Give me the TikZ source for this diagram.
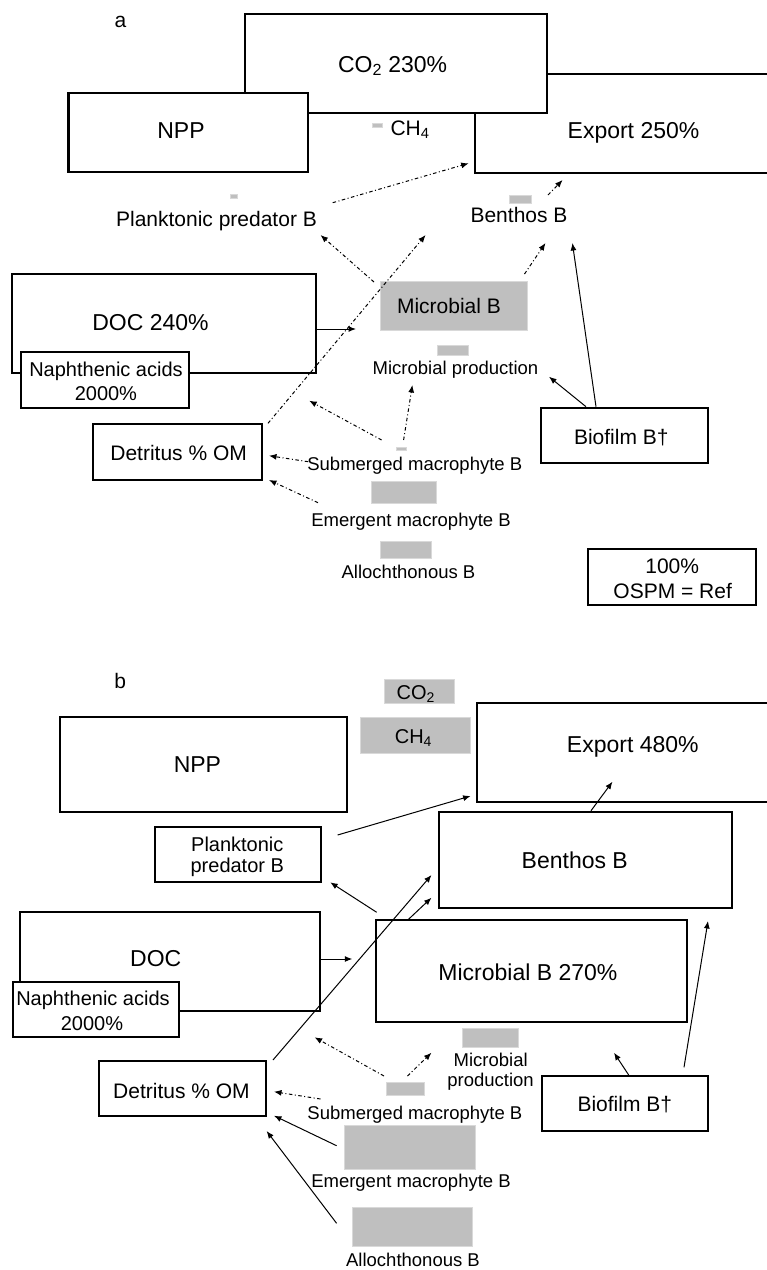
\documentclass[tikz,border=0pt]{standalone}
\usepackage{fontspec}
\setmainfont{Liberation Sans}
\usetikzlibrary{arrows.meta}
\newcommand\FtXL{\fontsize{23}{26}\selectfont}
\newcommand\FtL{\fontsize{21}{24}\selectfont}
\newcommand\FtM{\fontsize{20}{23}\selectfont}
\newcommand\FtS{\fontsize{18.5}{21}\selectfont}
\tikzset{
  box/.style={draw, line width=2.1pt, fill=white, inner sep=0pt},
  gbox/.style={draw=black!15, fill=black!25, line width=1pt, inner sep=0pt},
  lbl/.style={inner sep=0pt, anchor=base},
  flow/.style={line width=1pt, -{Latex[length=7.5pt,width=6pt]}},
  dflow/.style={flow, dash pattern=on 3.5pt off 2.5pt on 1pt off 2.5pt},
}
\begin{document}
\begin{tikzpicture}[x=1pt,y=-1pt]
\useasboundingbox (0,0) rectangle (767,1270);
\fill[white] (0,0) rectangle (767,1270);
\clip (0,0) rectangle (767,1270);

%================ panel a
\node[lbl,font=\FtL] (la) at (120.5,27) {a};
\node[box,minimum width=316pt,minimum height=99pt] (expA) at (632.6,123.5) {};
\node[box,minimum width=302.4pt,minimum height=99pt] (co2A) at (395.8,63.5) {};
\node[box,minimum width=239.5pt,minimum height=79pt] (nppA) at (188.2,132.2) {};
\node[lbl,font=\FtXL] (co2At) at (392.6,72) {CO\textsubscript{2} 230\%};
\node[lbl,font=\FtXL] (nppAt) at (181,138.3) {NPP};
\node[lbl,font=\FtXL] (expAt) at (633.5,138) {Export 250\%};
\node[gbox,minimum width=10pt,minimum height=4pt] (ch4Ag) at (377,125.5) {};
\node[lbl,font=\FtL] (ch4At) at (410,135) {CH\textsubscript{4}};

\node[gbox,minimum width=7pt,minimum height=4pt] (plkAg) at (233.5,196) {};
\node[lbl,font=\FtL] (plkAt) at (216.5,226.7) {Planktonic predator B};
\node[gbox,minimum width=22pt,minimum height=8pt] (benAg) at (520,199) {};
\node[lbl,font=\FtL] (benAt) at (519,222.7) {Benthos B};

\node[gbox,minimum width=146.4pt,minimum height=49pt] (micA) at (453.8,306.2) {};
\node[lbl,font=\FtL] (micAt) at (449,313.3) {Microbial B};

\node[box,minimum width=303.4pt,minimum height=99.3pt] (docA) at (163.9,323.7) {};
\node[lbl,font=\FtXL] (docAt) at (150.5,330.7) {DOC 240\%};
\node[box,minimum width=168.3pt,minimum height=56pt] (napA) at (104.7,380.3) {};
\node[lbl,font=\FtM] (napAt1) at (106,376) {Naphthenic acids};
\node[lbl,font=\FtM] (napAt2) at (105.9,400.7) {2000\%};

\node[gbox,minimum width=30.8pt,minimum height=10pt] (mpA) at (453.3,350) {};
\node[lbl,font=\FtS] (mpAt) at (455.5,374) {Microbial production};

\node[box,minimum width=168.8pt,minimum height=55.7pt] (detA) at (177.4,452.2) {};
\node[lbl,font=\FtL] (detAt) at (178.6,460.7) {Detritus \% OM};

\node[gbox,minimum width=10pt,minimum height=3.4pt] (subA) at (401,449) {};
\node[lbl,font=\FtS] (subAt) at (414.8,470) {Submerged macrophyte B};
\node[gbox,minimum width=65pt,minimum height=22.3pt] (emA) at (404.4,492.2) {};
\node[lbl,font=\FtS] (emAt) at (411,526) {Emergent macrophyte B};
\node[gbox,minimum width=51pt,minimum height=17.3pt] (alA) at (406,549.7) {};
\node[lbl,font=\FtS] (alAt) at (408.5,578.3) {Allochthonous B};

\node[box,minimum width=167.4pt,minimum height=55.7pt] (bioA) at (624.3,435.5) {};
\node[lbl,font=\FtL] (bioAt) at (621.3,444.3) {Biofilm B†};

\node[box,minimum width=168pt,minimum height=55.7pt] (leg) at (672,577.2) {};
\node[lbl,font=\FtL] (legt1) at (672.2,573.3) {100\%};
\node[lbl,font=\FtL] (legt2) at (672.7,598.3) {OSPM = Ref};

% connectors a
\coordinate (aPlkS) at (332.7,202.7);  \coordinate (aExpE1) at (468.7,163.3);
\coordinate (aBenS) at (548,195);      \coordinate (aExpE2) at (562.6,180);
\coordinate (aMicS1) at (374,282);     \coordinate (aPlkE) at (320.5,235);
\coordinate (aDetS) at (268,423.3);    \coordinate (aBenE1) at (425.6,235);
\coordinate (aMicS2) at (524.5,274);   \coordinate (aBenE2) at (545.5,243);
\coordinate (aBioS1) at (596,406.7);   \coordinate (aBenE3) at (572.4,243);
\coordinate (aBioS2) at (586,406.7);   \coordinate (aMpE1) at (549,376.7);
\coordinate (aDocS) at (315.6,329);    \coordinate (aMicE) at (356,329);
\coordinate (aSubS1) at (381.6,440);   \coordinate (aFreeE) at (309.2,400.7);
\coordinate (aSubS2) at (403.6,440);   \coordinate (aMpE2) at (412.4,385);
\coordinate (aSubS3) at (308.2,461.7); \coordinate (aDetE1) at (269,455.7);
\coordinate (aEmS) at (318,502.7);     \coordinate (aDetE2) at (269,480);
\draw[dflow] (aPlkS) -- (aExpE1);
\draw[dflow] (aBenS) -- (aExpE2);
\draw[dflow] (aMicS1) -- (aPlkE);
\draw[dflow] (aDetS) -- (aBenE1);
\draw[dflow] (aMicS2) -- (aBenE2);
\draw[flow] (aBioS1) -- (aBenE3);
\draw[flow] (aBioS2) -- (aMpE1);
\draw[flow] (aDocS) -- (aMicE);
\draw[dflow] (aSubS1) -- (aFreeE);
\draw[dflow] (aSubS2) -- (aMpE2);
\draw[dflow] (aSubS3) -- (aDetE1);
\draw[dflow] (aEmS) -- (aDetE2);

%================ panel b
\node[lbl,font=\FtL] (lb) at (120.3,688.3) {b};
\node[gbox,minimum width=70pt,minimum height=24.4pt] (co2B) at (419,691.5) {};
\node[lbl,font=\FtM] (co2Bt) at (415.7,699) {CO\textsubscript{2}};
\node[gbox,minimum width=109.6pt,minimum height=36.4pt] (ch4B) at (415.4,735.5) {};
\node[lbl,font=\FtM] (ch4Bt) at (413.4,743.3) {CH\textsubscript{4}};

\node[box,minimum width=287.7pt,minimum height=95pt] (nppB) at (203.5,764.8) {};
\node[lbl,font=\FtXL] (nppBt) at (197.4,772.7) {NPP};
\node[box,minimum width=313pt,minimum height=99pt] (expB) at (633.5,752.2) {};
\node[lbl,font=\FtXL] (expBt) at (632.8,752.7) {Export 480\%};

\node[box,minimum width=166.8pt,minimum height=54.4pt] (plkB) at (238,854.5) {};
\node[lbl,font=\FtM] (plkBt1) at (237.3,851.7) {Planktonic};
\node[lbl,font=\FtM] (plkBt2) at (237.3,872.3) {predator B};

\node[box,minimum width=293pt,minimum height=96pt] (benB) at (585.9,859.7) {};
\node[lbl,font=\FtXL] (benBt) at (574.8,868.3) {Benthos B};

\node[box,minimum width=311.2pt,minimum height=102.3pt] (micB) at (531.3,971.2) {};
\node[lbl,font=\FtXL] (micBt) at (527.9,980) {Microbial B 270\%};

\node[box,minimum width=300.8pt,minimum height=98.4pt] (docB) at (170,961.5) {};
\node[lbl,font=\FtXL] (docBt) at (155.8,966.7) {DOC};
\node[box,minimum width=165.8pt,minimum height=55pt] (napB) at (96.1,1009.8) {};
\node[lbl,font=\FtM] (napBt1) at (93,1005) {Naphthenic acids};
\node[lbl,font=\FtM] (napBt2) at (92,1030) {2000\%};

\node[gbox,minimum width=56.3pt,minimum height=18.7pt] (mpB) at (490.5,1038.3) {};
\node[lbl,font=\FtS] (mpBt1) at (490.7,1066.7) {Microbial};
\node[lbl,font=\FtS] (mpBt2) at (490.5,1086) {production};

\node[box,minimum width=166.4pt,minimum height=55pt] (bioB) at (625.2,1103.5) {};
\node[lbl,font=\FtL] (bioBt) at (624.8,1111.7) {Biofilm B†};

\node[gbox,minimum width=37.7pt,minimum height=13pt] (subB) at (405.3,1089.2) {};
\node[lbl,font=\FtS] (subBt) at (414.9,1119.3) {Submerged macrophyte B};

\node[box,minimum width=166.9pt,minimum height=55pt] (detB) at (182.2,1088.5) {};
\node[lbl,font=\FtL] (detBt) at (181.5,1098.3) {Detritus \% OM};

\node[gbox,minimum width=131pt,minimum height=43.7pt] (emB) at (410,1147.5) {};
\node[lbl,font=\FtS] (emBt) at (411,1187.3) {Emergent macrophyte B};
\node[gbox,minimum width=119.9pt,minimum height=39.3pt] (alB) at (412.2,1227) {};
\node[lbl,font=\FtS] (alBt) at (413,1266.3) {Allochthonous B};

% connectors b
\coordinate (bPlkS) at (337.6,835);    \coordinate (bExpE1) at (470.6,796);
\coordinate (bBenS) at (591,810.7);    \coordinate (bExpE2) at (612.5,781.7);
\coordinate (bMicS1) at (376.7,912.3); \coordinate (bPlkE) at (330.2,882.3);
\coordinate (bMicS2) at (408.5,919.3); \coordinate (bBenE1) at (431.5,897.7);
\coordinate (bDetS) at (273,1060);     \coordinate (bBenE2) at (431.5,875);
\coordinate (bBioS1) at (684,1067.3);  \coordinate (bBenE3) at (708,921);
\coordinate (bDocS) at (320.4,959);    \coordinate (bMicE) at (352.3,959);
\coordinate (bBioS2) at (628.7,1075);  \coordinate (bMpE1) at (614,1052.7);
\coordinate (bSubS1) at (384,1076);    \coordinate (bFreeE) at (314.6,1037.3);
\coordinate (bSubS2) at (407.5,1076);  \coordinate (bMpE2) at (431.5,1052.7);
\coordinate (bSubS3) at (320.5,1099);  \coordinate (bDetE1) at (274,1091.7);
\coordinate (bEmS) at (336.6,1145.7);  \coordinate (bDetE2) at (274,1115.7);
\coordinate (bAlS) at (336.6,1223.3);  \coordinate (bDetE3) at (266.6,1131);
\draw[flow] (bPlkS) -- (bExpE1);
\draw[flow] (bBenS) -- (bExpE2);
\draw[flow] (bMicS1) -- (bPlkE);
\draw[flow] (bMicS2) -- (bBenE1);
\draw[flow] (bDetS) -- (bBenE2);
\draw[flow] (bBioS1) -- (bBenE3);
\draw[flow] (bDocS) -- (bMicE);
\draw[flow] (bBioS2) -- (bMpE1);
\draw[dflow] (bSubS1) -- (bFreeE);
\draw[dflow] (bSubS2) -- (bMpE2);
\draw[dflow] (bSubS3) -- (bDetE1);
\draw[flow] (bEmS) -- (bDetE2);
\draw[flow] (bAlS) -- (bDetE3);
\end{tikzpicture}
\end{document}
